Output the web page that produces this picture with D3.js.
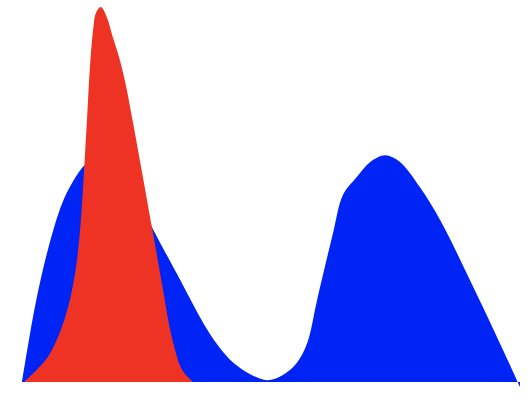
<!doctype html>
<html lang="en">
<head>
<meta charset="utf-8">
<title>Density</title>
<script src="https://cdn.jsdelivr.net/npm/d3@7"></script>
<style>
  body { margin: 0; background: #fff; }
</style>
</head>
<body>
<script>
// x positions (0-100) and heights (0-100)
var blueX = [0, 2.6, 5.2, 8.1, 10.1, 12.7, 14.7, 17.5, 20.8, 23.8, 26.2, 31.9, 35.3, 37.9, 39.9, 42.5, 46, 49.4, 52.6, 55.4, 57.5, 59.5, 62.7, 64.7, 67.5, 70.2, 73.2, 76.2, 80.2, 84.3, 90.3, 97, 100.4];
var blueY = [0, 20, 35.2, 47.7, 53.1, 57.9, 59.2, 58.3, 54.2, 47.6, 41.3, 27.2, 18.7, 12.8, 9.1, 5.3, 2.1, 0.5, 1.9, 5.1, 10.4, 21.9, 39.7, 49.9, 54.7, 58.7, 60.5, 58.7, 52, 43.2, 27.2, 8.5, -1.3];

var redX = [0.6, 5.2, 8.7, 10.7, 11.8, 12.4, 13.1, 13.7, 14.4, 14.9, 15.9, 17.1, 18.3, 19.6, 20.8, 22.4, 26.2, 28.2, 30.2, 32.3, 34.5];
var redY = [0.3, 6.7, 17.3, 29, 42, 54, 69.9, 84, 94.7, 98.4, 100, 97.3, 92, 86.5, 80, 69, 41.3, 26.4, 12, 3.2, 0];

var width = 532, height = 402;

var svg = d3.select("body").append("svg")
    .attr("width", width).attr("height", height);

var x = d3.scaleLinear().domain([0, 100]).range([22, 518]);
var y = d3.scaleLinear().domain([0, 100]).range([382, 7]);

var area = d3.area()
    .x(function(d){ return x(d[0]); })
    .y0(y(0))
    .y1(function(d){ return y(d[1]); })
    .curve(d3.curveCatmullRom.alpha(0.5));

var blue = blueX.map(function(v, i){ return [v, blueY[i]]; });
var red = redX.map(function(v, i){ return [v, redY[i]]; });

svg.append("path").datum(blue)
    .attr("d", area)
    .attr("fill", "#0024f5");

svg.append("path").datum(red)
    .attr("d", area)
    .attr("fill", "#ee3325");
</script>
</body>
</html>
